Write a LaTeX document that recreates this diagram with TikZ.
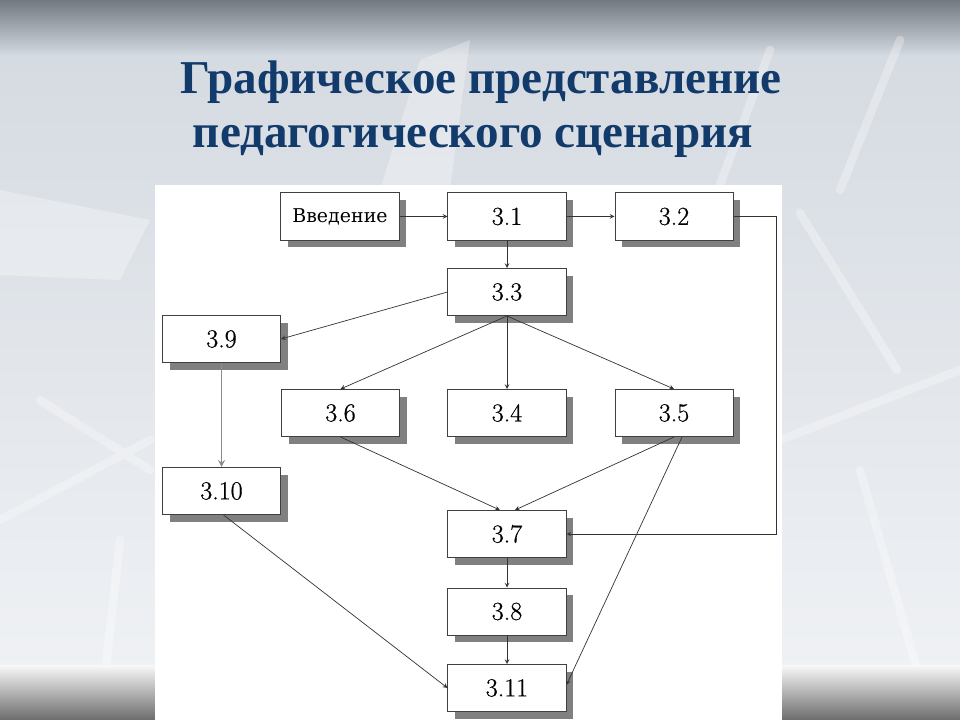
\documentclass[tikz,border=0pt]{standalone}
\usepackage{fontspec}
\usetikzlibrary{shadows}
\newfontfamily\titlefont{Liberation Serif}
\newfontfamily\boxfont{DejaVu Serif}
\newfontfamily\numfont[FakeBold=0.6]{Latin Modern Roman}
\definecolor{titleblue}{HTML}{123B6C}
\definecolor{slidetop}{HTML}{D3D9E0}
\definecolor{slidebot}{HTML}{F1F3F6}
\definecolor{bandtop}{HTML}{737980}
\begin{document}
\begin{tikzpicture}[x=0.025cm,y=-0.025cm,
	blk/.style={draw=black!75,fill=white,line width=0.7pt,minimum width=2.95cm,
		minimum height=1.175cm,inner sep=0pt,font=\numfont\fontsize{18.5}{20}\selectfont,
		drop shadow={shadow xshift=5pt,shadow yshift=-5pt,fill=black!50,opacity=1}},
	ln/.style={draw=black!80,line width=0.5pt,-stealth},
	crystal/.style={white,opacity=0.3,line cap=round}]
	\useasboundingbox (0,0) rectangle (960,720);
	\shade[top color=slidetop,bottom color=slidebot] (0,0) rectangle (960,720);
	\shade[top color=bandtop,bottom color=slidetop] (0,0) rectangle (960,55);
	\draw[crystal,line width=6pt] (800,213)--(897,370) (780,440)--(960,370)
	(770,50)--(720,185) (900,40)--(840,190) (40,400)--(150,470)
	(0,520)--(150,440) (120,540)--(100,720) (860,470)--(920,680);
	\fill[crystal] (0,190)--(150,220)--(120,280)--(0,275)--cycle
	(380,190)--(420,60)--(470,40)--(450,190)--cycle;
	\shade[top color=white!95!gray,bottom color=gray!85!black] (0,665) rectangle (960,720);
	\fill[white] (155,185) rectangle (782,720);
	\path (481,94) node[anchor=base,titleblue,font=\titlefont\bfseries\fontsize{33.5}{36}\selectfont](t1){Графическое представление};
	\path (473,148) node[anchor=base,titleblue,font=\titlefont\bfseries\fontsize{33.5}{36}\selectfont](t2){педагогического сценария};
	\path (340,216.5) node[blk,font=\boxfont\fontsize{13.5}{16}\selectfont](intro){Введение};
	\foreach \n/\x/\y/\texn in {31/507/216.5/3.1,32/674/216.5/3.2,33/507/292/3.3,
		39/221.5/339/3.9,36/340.5/413/3.6,34/507/413/3.4,35/674/413/3.5,
		310/221.5/491/3.10,37/507/534/3.7,38/507/611.5/3.8,311/507/688/3.11}
	\path (\x,\y) node[blk](n\n){\texn};
	\coordinate (turn) at (776,216.5);
	\draw[ln] (intro)--(n31);
	\draw[ln] (n31)--(n32);
	\draw[ln] (n31)--(n33);
	\draw[ln] (n33.west)--(n39.east);
	\foreach \k in {36,34,35} \draw[ln] (n33.south)--(n\k.north);
	\draw[ln,draw=black!45,line width=1.2pt] (n39)--(n310);
	\draw[ln] (n36.south)--([xshift=-0.18cm]n37.north);
	\draw[ln] (n35.south)--([xshift=0.2cm]n37.north);
	\draw[ln] (n32.east)--(turn)|-(n37.east);
	\draw[ln] ([xshift=0.2cm]n35.south)--([yshift=0.08cm]n311.east);
	\draw[ln] ([xshift=0.05cm]n310.south)--(n311.west);
	\draw[ln] (n37)--(n38);
	\draw[ln] (n38)--(n311);
\end{tikzpicture}
\end{document}
